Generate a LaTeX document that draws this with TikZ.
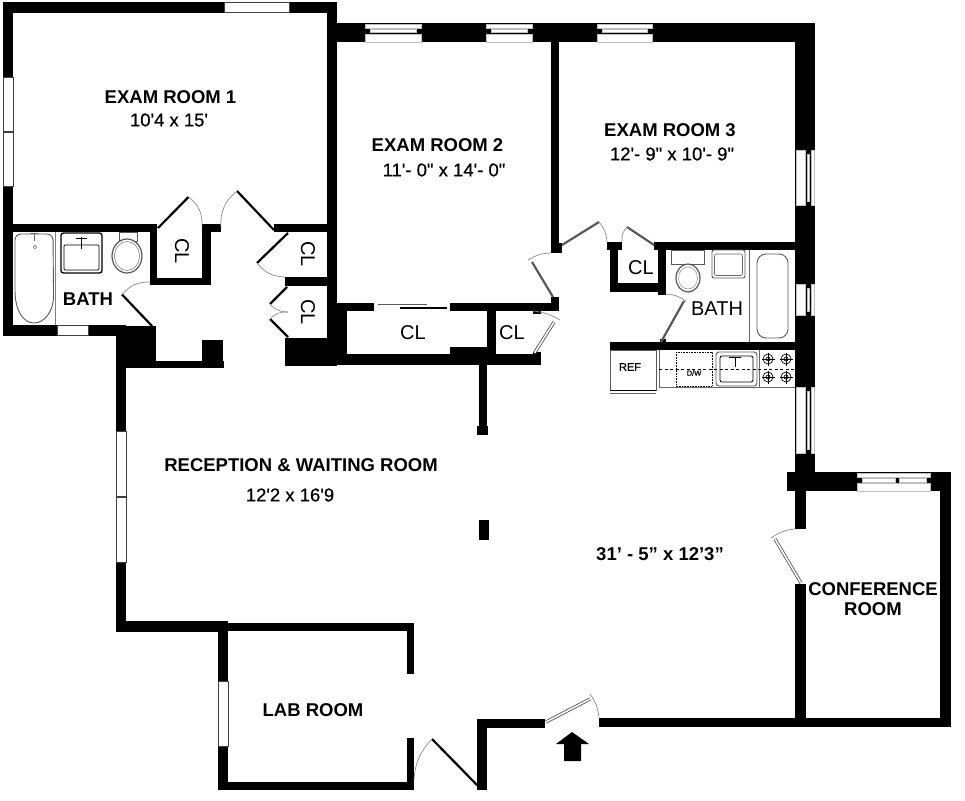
\documentclass[tikz,border=0pt]{standalone}
\usepackage{fontspec}
\newfontfamily\fplan{Liberation Sans}
\newfontfamily\fmed[FakeBold=0.5]{Liberation Sans}
\newcommand{\wallbox}[4]{\fill[black] (#1,#2) rectangle (#3,#4);}
\newcommand{\glass}[4]{\draw[windowpane] (#1,#2) rectangle (#3,#4);}
\newcommand{\pane}[4]{\draw[softpane] (#1,#2) rectangle (#3,#4);}
\newcommand{\hwin}[2]{\fill[black] (#1,23) rectangle (#2,42);
  \pane{#1}{24}{#2}{28}
  \pgfmathsetmacro{\xa}{#1+5}\pgfmathsetmacro{\xb}{#2-5}
  \pane{\xa}{29.5}{\xb}{32.5}
  \pane{#1}{34}{#2}{42}}
\newcommand{\vwin}[2]{\fill[black] (795,#1) rectangle (815,#2);
  \pane{796.5}{#1}{805.5}{#2}
  \pgfmathsetmacro{\ya}{#1+4}\pgfmathsetmacro{\yb}{#2-4}
  \pane{807}{\ya}{809.5}{\yb}
  \pane{811}{#1}{814}{#2}}
\tikzset{
  windowpane/.style={fill=white,draw=black!75,line width=.7pt},
  softpane/.style={fill=white,draw=black!25,line width=.4pt},
  arcline/.style={draw=black!45,line width=.7pt},
  leafblack/.style={draw=black,line width=2.2pt},
  leafgray/.style={draw=black!65,line width=2.2pt},
  leafdouble/.style={draw=black!70,double=white,double distance=1.6pt,line width=.8pt},
  fixture/.style={draw=black!65,line width=.9pt,fill=white},
  fixturedark/.style={draw=black,line width=1.3pt,fill=white},
  room/.style={font=\fplan\bfseries\fontsize{18.5}{21}\selectfont,inner sep=0pt,align=center},
  size/.style={font=\fmed\fontsize{18.5}{21}\selectfont,inner sep=0pt},
  clos/.style={font=\fplan\fontsize{20}{22}\selectfont,inner sep=0pt},
}
\begin{document}
\begin{tikzpicture}[x=1pt,y=-1pt]
\useasboundingbox (0,0) rectangle (965,800);
\fill[white] (0,0) rectangle (965,800);

% Exam room 1 and left bath outline
\wallbox{3}{2}{337}{13}
\wallbox{3}{2}{13}{336}
\wallbox{327}{2}{337}{338}
\glass{224}{2.5}{289}{12.5}
\glass{3}{77}{13}{131}
\glass{3}{132}{13}{186}
% wall above bath, closets
\wallbox{3}{224}{157}{232}
\wallbox{150}{224}{157}{285}
\wallbox{150}{278}{211}{285}
\wallbox{202}{224}{211}{285}
\wallbox{202}{224}{221}{232}
\wallbox{274}{224}{337}{232}
\wallbox{285}{277}{337}{286}
% bath bottom
\wallbox{3}{325}{126}{336}
\glass{57}{325.5}{88}{335.5}
\wallbox{116}{326}{156}{368}
\wallbox{116}{361}{224}{368}
\wallbox{202}{340}{223}{368}
\wallbox{285}{338}{337}{366}
% reception left wall
\wallbox{116}{326}{126}{632}
\glass{116}{431}{126}{496}
\glass{116}{497}{126}{562}
\wallbox{116}{621}{228}{632}
% lab room
\wallbox{218}{621}{228}{790}
\glass{218}{681}{228}{746}
\wallbox{228}{623}{414}{631}
\wallbox{407}{623}{414}{674}
\wallbox{407}{738}{414}{790}
\wallbox{218}{782}{414}{790}
% entrance walls
\wallbox{477}{728}{487}{790}
\wallbox{477}{719}{545}{728}
\wallbox{599}{718}{951}{727}
% conference room
\wallbox{940}{472}{951}{727}
\wallbox{787}{472}{951}{491}
\wallbox{795}{491}{806}{529}
\wallbox{795}{584}{806}{718}
\fill[black] (857,472) rectangle (930,491);
\pane{857}{473}{930}{477}
\pane{862}{478.5}{895}{482}
\pane{899}{478.5}{926}{482}
\pane{857}{483}{930}{491}
% top wall rooms 2, 3
\wallbox{337}{23}{815}{42}
\hwin{365}{421}
\hwin{486}{532}
\hwin{597}{652}
\wallbox{795}{23}{815}{491}
\vwin{150}{205}
\vwin{284}{315}
\vwin{387}{453}
% walls between 2 and 3, closets
\wallbox{551}{42}{559}{253}
\wallbox{551}{243}{562}{253}
\wallbox{337}{303}{374}{311}
\wallbox{450}{303}{559}{311}
\wallbox{551}{297}{559}{311}
\wallbox{337}{303}{347}{365}
\wallbox{337}{354}{541}{365}
\wallbox{450}{347}{488}{365}
\wallbox{487}{311}{496}{365}
\wallbox{533}{352}{541}{365}
\wallbox{533}{311}{541}{313.5}
\wallbox{479}{365}{487}{426}
\wallbox{477}{426}{488}{435}
\wallbox{479}{520}{489}{540}
% kitchen/bath walls
\wallbox{654}{242}{795}{250}
\wallbox{607}{242}{622}{250}
\wallbox{610}{242}{618}{292}
\wallbox{610}{283}{666}{292}
\wallbox{658}{242}{666}{295}
\wallbox{610}{342}{795}{350}
\wallbox{660}{339}{666}{343}

% doors
\coordinate (d1a) at (158,228); \coordinate (d1b) at (188.5,197); \coordinate (d1c) at (202,226);
\draw[leafblack] (d1a) -- (d1b);
\draw[arcline] (d1b) to[bend left=28] (d1c);
\coordinate (d2a) at (274,230); \coordinate (d2b) at (237,191); \coordinate (d2c) at (221,228);
\draw[leafblack] (d2a) -- (d2b);
\draw[arcline] (d2b) to[bend right=28] (d2c);
\coordinate (d3a) at (288,233); \coordinate (d3b) at (257,263); \coordinate (d3c) at (285,277);
\draw[leafblack] (d3a) -- (d3b);
\draw[arcline] (d3b) to[bend right=25] (d3c);
\coordinate (d4a) at (287,287); \coordinate (d4b) at (270,304); \coordinate (d4c) at (288,312);
\coordinate (d4d) at (270,319); \coordinate (d4e) at (288,337);
\draw[leafblack] (d4a) -- (d4b);
\draw[leafblack] (d4d) -- (d4e);
\draw[arcline] (d4b) to[bend right=25] (d4c);
\draw[arcline] (d4d) to[bend left=25] (d4c);
\coordinate (d5a) at (152,326); \coordinate (d5b) at (122,294.5); \coordinate (d5c) at (150,282);
\draw[leafblack] (d5a) -- (d5b);
\draw[arcline] (d5b) to[bend left=25] (d5c);
\coordinate (d6a) at (562,245); \coordinate (d6b) at (599,222); \coordinate (d6c) at (607,242);
\draw[leafgray] (d6a) -- (d6b);
\draw[arcline] (d6b) to[bend left=18] (d6c);
\coordinate (d7a) at (553,297); \coordinate (d7b) at (532,262); \coordinate (d7c) at (528,260); \coordinate (d7d) at (551,253);
\draw[leafgray] (d7a) -- (d7b);
\draw[arcline] (d7c) to[bend left=15] (d7d);
\coordinate (d8a) at (534.5,353); \coordinate (d8b) at (554,322); \coordinate (d8c) at (533,311); \coordinate (d8d) at (560,320);
\draw[leafdouble] (d8a) -- (d8b);
\draw[arcline] (d8c) to[bend left=12] (d8d);
\coordinate (d9a) at (654,245); \coordinate (d9b) at (627,227); \coordinate (d9c) at (622,242);
\draw[leafgray] (d9a) -- (d9b);
\draw[arcline] (d9b) to[bend right=25] (d9c);
\coordinate (d10a) at (661,342); \coordinate (d10b) at (684,301); \coordinate (d10c) at (666,294); \coordinate (d10d) at (686,301);
\draw[leafgray] (d10a) -- (d10b);
\draw[arcline] (d10c) to[bend left=15] (d10d);
\coordinate (d11a) at (801,583); \coordinate (d11b) at (775,539); \coordinate (d11c) at (771,538); \coordinate (d11d) at (795,529);
\draw[leafdouble] (d11a) -- (d11b);
\draw[arcline] (d11c) to[bend left=15] (d11d);
\coordinate (d12a) at (477,785); \coordinate (d12b) at (432,739); \coordinate (d12c) at (414,780);
\draw[leafblack] (d12a) -- (d12b);
\draw[arcline] (d12b) to[bend right=20] (d12c);
\coordinate (d13a) at (546,722); \coordinate (d13b) at (590,699); \coordinate (d13c) at (590,694); \coordinate (d13d) at (599,718);
\draw[leafdouble] (d13a) -- (d13b);
\draw[arcline] (d13c) to[bend left=15] (d13d);
% sliding closet doors
\draw[draw=black!65,line width=1.8pt] (378,304.5) -- (427,304.5);
\draw[draw=black,line width=1.3pt] (400,308) -- (447,308);
% entry arrow
\fill[black] (572,732) -- (589,744) -- (581,744) -- (581,761) -- (564,761) -- (564,744) -- (556,744) -- cycle;

% left bath fixtures
\draw[fixture,rounded corners=6pt] (15,234) -- (53,234) -- (53.5,290) [sharp corners] .. controls (53.5,312) and (44,323) .. (34,323) .. controls (24,323) and (15,312) .. (15,290) [rounded corners=6pt] -- cycle;
\draw[draw=black!60,line width=.7pt] (34,234) -- (34,241);
\draw[draw=black!60,line width=1.5pt] (30,233.5) -- (38,233.5);
\draw[draw=black!60,line width=.6pt] (35,247) circle (1.8);
\draw[draw=black!50,line width=.6pt] (55,232) -- (55,325);
\draw[fixturedark,rounded corners=2.5pt] (61,233) rectangle (102,273);
\draw[draw=black,line width=.9pt,rounded corners=1pt] (64,245) rectangle (99,270);
\draw[draw=black,line width=1pt] (81,237) -- (81,249);
\draw[draw=black,line width=.9pt] (76,238) -- (87,238);
\draw[fixture] (119,232) rectangle (137,241);
\draw[fixture,line width=1.2pt] (127,256) ellipse (15 and 17);
\draw[draw=black!50,line width=.6pt] (127,256) ellipse (12.5 and 14.5);

% right bath fixtures
\draw[fixture] (671,250) rectangle (704,264);
\draw[fixture,line width=1.2pt] (688,278) ellipse (12 and 14);
\draw[draw=black!40,line width=.6pt] (688,278) ellipse (9.5 and 11);
\draw[fixture,rounded corners=2pt] (712,250) rectangle (745,278);
\draw[draw=black!60,line width=.6pt,rounded corners=2pt] (714.5,254) rectangle (742.5,275.5);
\draw[draw=black!60,line width=.9pt] (749.5,250) -- (749.5,342);
\draw[fixture,rounded corners=9pt] (757,254) rectangle (788,338);

% kitchen
\draw[fixture,line width=.8pt] (610,350) rectangle (656,390);
\draw[draw=black,line width=1pt] (610,390.5) -- (656,390.5);
\draw[draw=black!60,line width=.7pt] (610,393.5) -- (656,393.5);
\draw[draw=black!60,line width=.8pt] (659,350) -- (659,387) -- (795,387);
\draw[draw=black,line width=.6pt,densely dotted] (676,352) rectangle (712,386);
\draw[fixture,rounded corners=3pt] (716,352) rectangle (757,386);
\draw[draw=black,line width=.8pt,rounded corners=2pt] (720,356) rectangle (753,382);
\draw[draw=black,line width=.8pt] (735,357) -- (735,367);
\draw[draw=black,line width=.8pt] (729,357) -- (741,357);
\draw[draw=black!60,line width=.8pt] (759,350) -- (759,387);
\draw[draw=black,line width=.7pt,dash pattern=on 3pt off 2.5pt] (659,369) -- (795,369);
\foreach \bx/\by in {768/359,786/359,768/377,786/377}{
  \draw[draw=black,line width=.7pt] (\bx,\by) circle (5);
  \draw[draw=black,line width=.7pt] (\bx,\by) circle (2);
  \draw[draw=black,line width=.5pt] (\bx-6.5,\by) -- (\bx+6.5,\by) (\bx,\by-6.5) -- (\bx,\by+6.5);
}

% texts
\node[room] (t1) at (170.5,97) {EXAM ROOM 1};
\node[size] (t1s) at (169,120) {10'4 x 15'};
\node[room] (t2) at (437.5,145) {EXAM ROOM 2};
\node[size] (t2s) at (444,170) {11'- 0" x 14'- 0"};
\node[room] (t3) at (670,130) {EXAM ROOM 3};
\node[size] (t3s) at (672,154) {12'- 9" x 10'- 9"};
\node[room] (t4) at (301,465) {RECEPTION \& WAITING ROOM};
\node[size] (t4s) at (290,495) {12'2 x 16'9};
\node[room] (t5) at (660,554) {31’ - 5” x 12’3”};
\node[room] (t6) at (873,589) {CONFERENCE};
\node[room] (t6b) at (873,609) {ROOM};
\node[room] (t7) at (313,710) {LAB ROOM};
\node[room] (t8) at (88,299) {BATH};
\node[clos] (t9) at (717,309) {BATH};
\node[clos,rotate=-90] (c1) at (182,251) {CL};
\node[clos,rotate=-90] (c2) at (308,254) {CL};
\node[clos,rotate=-90] (c3) at (308,312) {CL};
\node[clos] (c4) at (413,333) {CL};
\node[clos] (c5) at (512,333) {CL};
\node[clos] (c6) at (641,268) {CL};
\node[font=\fmed\fontsize{11}{13}\selectfont,inner sep=0pt] (r1) at (630,367) {REF};
\node[font=\fmed\fontsize{7.5}{9}\selectfont,inner sep=0pt] (r2) at (694,373) {D/W};
\end{tikzpicture}
\end{document}
